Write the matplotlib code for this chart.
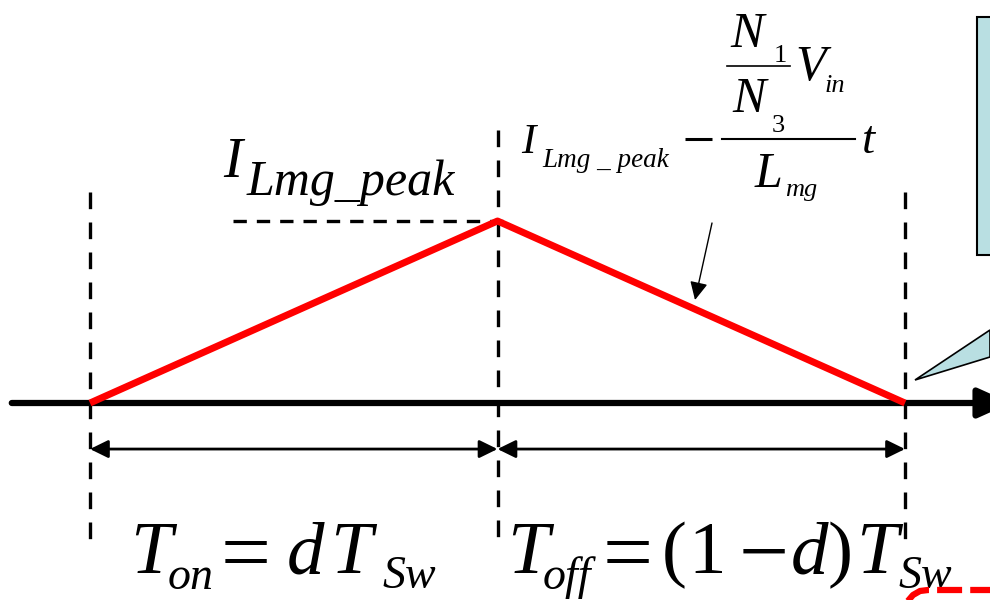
import matplotlib
matplotlib.use("Agg")
import matplotlib.pyplot as plt
from matplotlib.patches import Rectangle, Polygon

# magnetizing current over one switching period (time in units of T_sw, current in units of peak)
duty = 0.5
t_points = [0.0, duty, 1.0]
i_points = [0.0, 1.0, 0.0]

FONT = "Liberation Serif"
RED = "#ff0000"
BLUE = "#b9dfe2"

fig = plt.figure(figsize=(9.9, 6.0), dpi=100)

# data axes: t = 0 sits at x = 90 px, t = 1 at x = 905 px; i = 0 at y = 403 px, i = 1 at y = 221 px
ax = fig.add_axes([0, 0, 1, 1])
ax.set_xlim(-90 / 815, 900 / 815)
ax.set_ylim(-197 / 182, 403 / 182)
ax.axis("off")

# overlay in pixel units for the annotations
ov = fig.add_axes([0, 0, 1, 1])
ov.set_xlim(0, 990)
ov.set_ylim(600, 0)
ov.axis("off")
ov.patch.set_alpha(0)

# time axis with arrow
ax.annotate("", xy=(1.13, 0), xytext=(-0.096, 0), annotation_clip=False,
            arrowprops=dict(arrowstyle="-|>,head_length=1.0,head_width=0.45",
                            mutation_scale=20, lw=4.5, color="black",
                            shrinkA=0, shrinkB=0), zorder=2)

# dashed guides at switching instants
guide_top = [1.16, 1.50, 1.16]
for t, top in zip(t_points, guide_top):
    ax.plot([t, t], [top, -0.753], color="black", lw=2.4,
            linestyle=(0, (5, 4)), zorder=3)
ax.plot([0.1755, 0.518], [i_points[1], i_points[1]], color="black", lw=2.4,
        linestyle=(0, (4, 3)), zorder=3)

# current waveform
ax.plot(t_points, i_points, color=RED, lw=5, solid_capstyle="butt", zorder=4)

# interval arrows
span_y = -0.253
for a, b in zip(t_points[:-1], t_points[1:]):
    ax.annotate("", xy=(b, span_y), xytext=(a, span_y),
                arrowprops=dict(arrowstyle="<|-|>,head_length=0.55,head_width=0.27",
                                mutation_scale=20, lw=2, color="black",
                                shrinkA=0, shrinkB=0), zorder=3)


def put(x, y, s, size, style="italic", **kw):
    ov.text(x, y, s, fontsize=size, family=FONT, style=style,
            ha=kw.pop("ha", "left"), va=kw.pop("va", "baseline"), **kw)


# peak label
put(223, 177, "I", 41)
put(247, 195, "Lmg_peak", 36)

# slope of the falling edge
put(521, 153, "I", 31)
put(542, 167, "Lmg _ peak", 19.5)
ov.plot([685, 712], [139, 139], color="black", lw=2.2, solid_capstyle="butt")
ov.plot([722, 855], [139, 139], color="black", lw=1.5)
put(730, 47, "N", 36)
put(774, 62, "1", 19, style="normal")
ov.plot([727, 790], [66, 66], color="black", lw=1.2)
put(795, 80, "V", 36)
put(825, 92, "in", 19)
put(732, 112, "N", 36)
put(772, 132, "3", 19, style="normal")
put(755, 187, "L", 36)
put(785, 196, "mg", 19)
put(862, 153, "t", 34)
ov.annotate("", xy=(695, 300), xytext=(712, 223),
            arrowprops=dict(arrowstyle="-|>,head_length=0.55,head_width=0.27",
                            mutation_scale=20, lw=1, color="black",
                            shrinkA=0, shrinkB=0))

# interval labels
put(130, 573, "T", 54)
put(168, 589, "on", 33)
put(246, 550, "=", 64, style="normal", ha="center", va="center_baseline")
put(287, 573, "d", 54)
put(330, 573, "T", 54)
put(382, 588, "Sw", 33)

put(507, 573, "T", 54)
put(543, 589, "off", 33)
put(628, 550, "=", 64, style="normal", ha="center", va="center_baseline")
put(662, 573, "(", 54, style="normal")
put(688, 573, "1", 54, style="normal")
put(764, 550, "\u2212", 64, style="normal", ha="center", va="center_baseline")
put(791, 573, "d", 54)
put(828, 573, ")", 54, style="normal")
put(856, 573, "T", 54)
put(898, 588, "Sw", 33)

# callout box on the right edge
ov.add_patch(Polygon([[990, 330], [915, 380], [990, 357]], closed=True,
                     facecolor=BLUE, edgecolor="black", lw=1.2, zorder=5))
ov.add_patch(Rectangle((977, 17), 40, 238, facecolor=BLUE, edgecolor="black",
                       lw=1.5, zorder=5))

# red dashed outline at the lower right corner
ov.plot([907, 913, 920, 928, 995], [602, 595, 591, 590, 590], color=RED,
        lw=4.5, linestyle=(0, (4, 1.3)), zorder=5)

fig.savefig("out.png", dpi=100)
